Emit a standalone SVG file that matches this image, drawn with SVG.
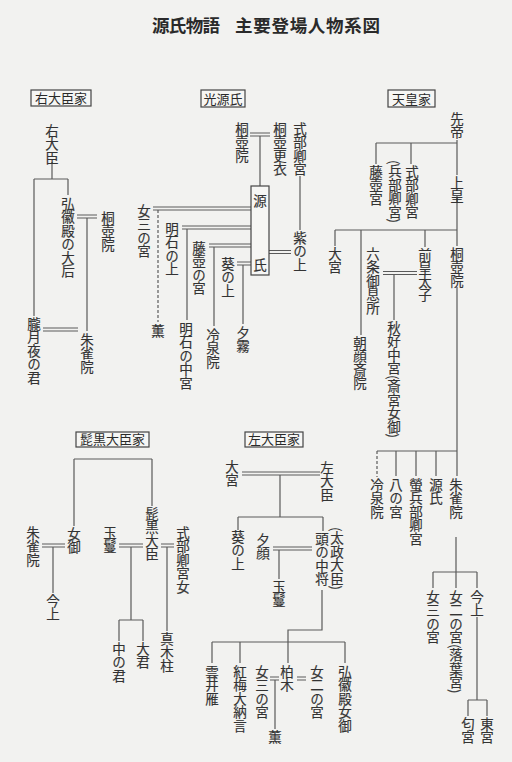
<svg xmlns="http://www.w3.org/2000/svg" width="512" height="762" viewBox="0 0 512 762">
<style>
.v{writing-mode:vertical-rl;font-family:'Noto Sans CJK JP','Noto Sans CJK SC',sans-serif;font-size:13.5px;fill:#333;stroke:#333;stroke-width:0.15}
.h{font-family:'Noto Sans CJK JP','Noto Sans CJK SC',sans-serif;font-size:13px;fill:#2a2a2a;text-anchor:middle}
.t{font-family:'Noto Sans CJK JP','Noto Sans CJK SC',sans-serif;font-size:17.5px;font-weight:bold;fill:#2a2a2a}
.bx{fill:#f6f6f4;stroke:#444;stroke-width:1.2}
.ln{fill:none;stroke:#5a5a5a;stroke-width:1.2}
.dl{fill:none;stroke:#5a5a5a;stroke-width:1.2;stroke-dasharray:3 2}
</style>
<rect x="0" y="0" width="512" height="762" fill="#f2f2f0"/>
<g id="title">
<text class="t" x="152" y="32" textLength="68">源氏物語</text>
<text class="t" x="235" y="32" textLength="145">主要登場人物系図</text>
</g>
<g id="connectors">
<path class="ln" d="M52,162V179M34,179H68M34,179V316M68,179V195"/>
<path class="ln" d="M77,215H97M77,218H97M87,218V331"/>
<path class="ln" d="M43,328H78M43,331H78"/>
<path class="ln" d="M250,133H270M250,136H270M260,136V186"/>
<path class="ln" d="M300,176V230"/>
<path class="ln" d="M269,250.5H291M269,253.5H291"/>
<path class="ln" d="M153,207H251M153,210H251"/>
<path class="dl" d="M158,210V322"/>
<path class="ln" d="M182,226H251M182,229H251M187,229V320"/>
<path class="ln" d="M209,244H251M209,247H251M214,247V326"/>
<path class="ln" d="M237,262H251M237,265H251M243,265V324"/>
<path class="ln" d="M457,140V175M376,143H457M376,143V164M411,143V164"/>
<path class="ln" d="M457,196V246M335,230H457M335,230V246M361,230V335M425,230V247"/>
<path class="ln" d="M383,271.5H417M383,274.5H417M394,274.5V320"/>
<path class="ln" d="M457,287V476M377,451H457M396,451V476M416,451V476M436,451V476"/>
<path class="dl" d="M377,451V477"/>
<path class="ln" d="M456,537V588M433,572H477M433,572V588M477,572V588"/>
<path class="ln" d="M477,617V700M468,700H487M468,700V716M487,700V716"/>
<path class="ln" d="M74,459H152M74,459V526M152,459V506"/>
<path class="ln" d="M42,544H65M42,547H65M53,547V593"/>
<path class="ln" d="M119,544H143M119,547H143M131,547V620M119,620H143M119,620V641M143,620V641"/>
<path class="ln" d="M161,544H174M161,547H174M167,547V631"/>
<path class="ln" d="M242,472H320M242,475H320M280,475V517M238,517H323M238,517V530M323,517V531"/>
<path class="ln" d="M273,547H312M273,550H312M279,550V579"/>
<path class="ln" d="M322,590V630H288V663M212,642H345M212,642V663M240,642V663M345,642V663"/>
<path class="ln" d="M270,677H279M270,680H279M275,680V729"/>
<path class="ln" d="M297,677H306M297,680H306"/>
</g>
<g id="udaijin-ke">
<rect class="bx" x="31" y="90" width="60" height="16"/>
<text class="h" x="61" y="103">右大臣家</text>
</g>
<g id="udaijin"><text class="v" x="52" y="124">右大臣</text></g>
<g id="kokiden-taigo"><text class="v" x="68" y="197">弘徽殿の大后</text></g>
<g id="kiritsubo-in-1"><text class="v" x="108" y="211">桐壺院</text></g>
<g id="oborozukiyo"><text class="v" x="34" y="317">朧月夜の君</text></g>
<g id="suzaku-in-1"><text class="v" x="87" y="333">朱雀院</text></g>

<g id="hikaru-genji-ke">
<rect class="bx" x="201" y="90" width="44" height="17"/>
<text class="h" x="223" y="104">光源氏</text>
</g>
<g id="kiritsubo-in-2"><text class="v" x="242" y="122">桐壺院</text></g>
<g id="kiritsubo-koi"><text class="v" x="280" y="122">桐壺更衣</text></g>
<g id="shikibukyo-miya-1"><text class="v" x="300" y="122">式部卿宮</text></g>
<g id="genji">
<rect class="bx" x="251" y="186" width="18" height="89"/>
<text class="v" x="260" y="194">源</text>
<text class="v" x="260" y="258">氏</text>
</g>
<g id="murasaki"><text class="v" x="300" y="231">紫の上</text></g>
<g id="onna-san-1"><text class="v" x="144" y="204">女三の宮</text></g>
<g id="kaoru-1"><text class="v" x="158" y="324">薫</text></g>
<g id="akashi-no-ue"><text class="v" x="172" y="222">明石の上</text></g>
<g id="akashi-chugu"><text class="v" x="186" y="322">明石の中宮</text></g>
<g id="fujitsubo-1"><text class="v" x="199" y="241">藤壺の宮</text></g>
<g id="reizei-1"><text class="v" x="213" y="328">冷泉院</text></g>
<g id="aoi-1"><text class="v" x="228" y="257">葵の上</text></g>
<g id="yugiri"><text class="v" x="243" y="326">夕霧</text></g>

<g id="tenno-ke">
<rect class="bx" x="388" y="90" width="47" height="17"/>
<text class="h" x="411.5" y="104">天皇家</text>
</g>
<g id="sentei"><text class="v" x="457" y="112">先帝</text></g>
<g id="fujitsubo-2"><text class="v" x="376" y="165">藤壺宮</text></g>
<g id="shikibukyo-miya-2"><text class="v" x="412" y="165">式部卿宮</text></g>
<g id="hyobukyo-miya"><text class="v" x="395" y="160">(兵部卿宮)</text></g>
<g id="joko"><text class="v" x="457" y="176">上皇</text></g>
<g id="omiya-1"><text class="v" x="335" y="247">大宮</text></g>
<g id="rokujo"><text class="v" x="373" y="247">六条御息所</text></g>
<g id="zen-kotaishi"><text class="v" x="425" y="248">前皇太子</text></g>
<g id="kiritsubo-in-3"><text class="v" x="457" y="247">桐壺院</text></g>
<g id="akikonomu"><text class="v" x="394" y="321">秋好中宮(斎宮女御)</text></g>
<g id="asagao"><text class="v" x="360" y="336">朝顔斎院</text></g>
<g id="reizei-2"><text class="v" x="377" y="478">冷泉院</text></g>
<g id="hachi-no-miya"><text class="v" x="396" y="478">八の宮</text></g>
<g id="hotaru"><text class="v" x="416" y="478">螢兵部卿宮</text></g>
<g id="genji-2"><text class="v" x="436" y="478">源氏</text></g>
<g id="suzaku-in-2"><text class="v" x="456" y="478">朱雀院</text></g>
<g id="onna-san-2"><text class="v" x="433" y="590">女三の宮</text></g>
<g id="ochiba"><text class="v" x="456" y="590">女二の宮(落葉宮)</text></g>
<g id="kinjo-1"><text class="v" x="477" y="590">今上</text></g>
<g id="niou"><text class="v" x="468" y="717">匂宮</text></g>
<g id="togu"><text class="v" x="487" y="717">東宮</text></g>

<g id="higekuro-ke">
<rect class="bx" x="76" y="432" width="73" height="15"/>
<text class="h" x="112.5" y="444">髭黒大臣家</text>
</g>
<g id="nyogo"><text class="v" x="74" y="527">女御</text></g>
<g id="suzaku-in-3"><text class="v" x="33" y="526">朱雀院</text></g>
<g id="kinjo-2"><text class="v" x="53" y="594">今上</text></g>
<g id="higekuro"><text class="v" x="152" y="507">髭黒大臣</text></g>
<g id="tamakazura-1"><text class="v" x="110" y="526">玉鬘</text></g>
<g id="naka-no-kimi"><text class="v" x="119" y="642">中の君</text></g>
<g id="oigimi"><text class="v" x="143" y="642">大君</text></g>
<g id="shikibukyo-miya-musume"><text class="v" x="183" y="526">式部卿宮女</text></g>
<g id="makibashira"><text class="v" x="167" y="632">真木柱</text></g>

<g id="sadaijin-ke">
<rect class="bx" x="245" y="432" width="58" height="15"/>
<text class="h" x="274" y="444">左大臣家</text>
</g>
<g id="omiya-2"><text class="v" x="232" y="460">大宮</text></g>
<g id="sadaijin"><text class="v" x="327" y="461">左大臣</text></g>
<g id="aoi-2"><text class="v" x="238" y="530">葵の上</text></g>
<g id="to-no-chujo"><text class="v" x="322" y="532">頭の中将</text></g>
<g id="daijo-daijin"><text class="v" x="337" y="527">(太政大臣)</text></g>
<g id="yugao"><text class="v" x="263" y="533">夕顔</text></g>
<g id="tamakazura-2"><text class="v" x="279" y="580">玉鬘</text></g>
<g id="kumoinokari"><text class="v" x="212" y="665">雲井雁</text></g>
<g id="kobai"><text class="v" x="240" y="665">紅梅大納言</text></g>
<g id="onna-san-3"><text class="v" x="262" y="665">女三の宮</text></g>
<g id="kashiwagi"><text class="v" x="287" y="665">柏木</text></g>
<g id="onna-ni"><text class="v" x="317" y="665">女二の宮</text></g>
<g id="kokiden-nyogo"><text class="v" x="345" y="665">弘徽殿女御</text></g>
<g id="kaoru-2"><text class="v" x="275" y="730">薫</text></g>
</svg>
